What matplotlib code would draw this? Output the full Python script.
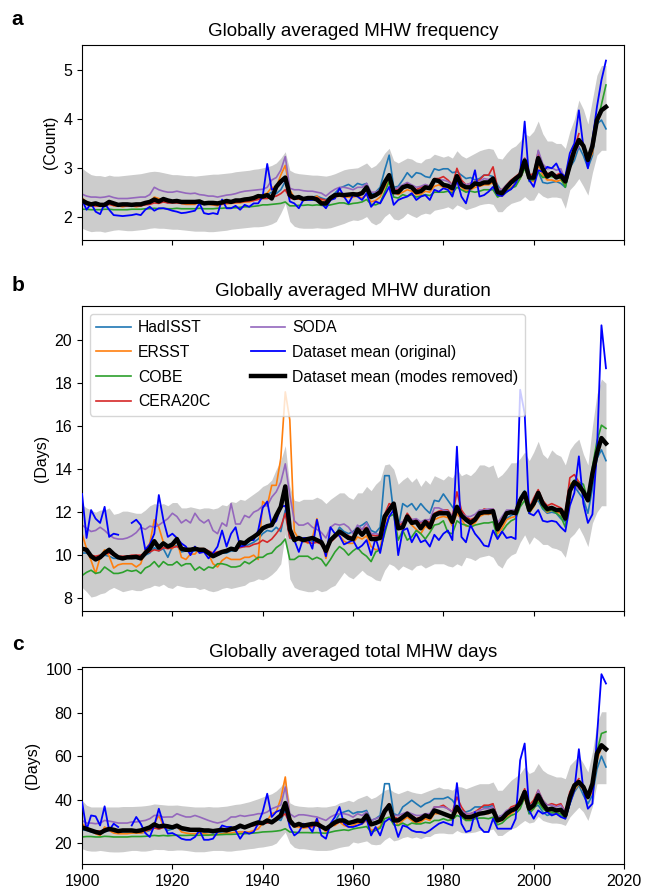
import numpy as np
import matplotlib
matplotlib.use("Agg")
import matplotlib.pyplot as plt

nan = np.nan
years = np.arange(1900, 2017)

names = ["HadISST", "ERSST", "COBE", "CERA20C", "SODA"]
colors = ["#1f77b4", "#ff7f0e", "#2ca02c", "#d62728", "#9467bd"]

# ---------------- (a) frequency ----------------
freq_had = [2.3, 2.25, 2.22, 2.25, 2.22, 2.2, 2.27, 2.25, 2.22, 2.22,
            2.22, 2.22, 2.22, 2.22, 2.25, 2.27, 2.32, 2.3, 2.33, 2.28,
            2.3, 2.3, 2.28, 2.28, 2.27, 2.28, 2.28, 2.25, 2.26, 2.25,
            2.25, 2.27, 2.3, 2.28, 2.3, 2.32, 2.33, 2.35, 2.38, 2.42,
            2.45, 2.45, 2.5, 2.47, 2.55, 2.72, 2.42, 2.38, 2.4, 2.36,
            2.4, 2.4, 2.42, 2.38, 2.35, 2.4, 2.48, 2.58, 2.62, 2.66,
            2.6, 2.68, 2.65, 2.68, 2.45, 2.5, 2.6, 2.95, 3.26, 2.6,
            2.62, 2.75, 2.9, 2.8, 2.9, 2.88, 2.82, 2.8, 2.98, 2.95,
            2.98, 2.98, 2.9, 2.92, 2.85, 2.78, 2.8, 2.75, 2.78, 2.85,
            2.85, 2.82, 2.65, 2.5, 2.62, 2.68, 2.7, 2.85, 3.16, 2.72,
            2.75, 2.92, 2.7, 2.68, 2.7, 2.72, 2.68, 2.6, 3.0, 3.15,
            3.43, 3.25, 3.0, 3.25, 3.9, 3.98, 3.8]
freq_ers = [2.38, 2.3, 2.24, 2.22, 2.22, 2.25, 2.27, 2.22, 2.22, 2.2,
            2.22, 2.22, 2.2, 2.22, 2.27, 2.3, 2.4, 2.37, 2.33, 2.3,
            2.3, 2.32, 2.27, 2.25, 2.25, 2.25, 2.3, 2.27, 2.25, 2.24,
            2.22, 2.25, 2.26, 2.27, 2.28, 2.28, 2.3, 2.3, 2.33, 2.36,
            2.45, 2.48, 2.6, 2.6, 2.85, 3.05, 2.55, 2.38, 2.36, 2.33,
            2.35, 2.36, 2.42, 2.33, 2.25, 2.35, 2.4, 2.42, 2.4, 2.4,
            2.4, 2.42, 2.38, 2.45, 2.3, 2.33, 2.4, 2.6, 2.72, 2.5,
            2.45, 2.5, 2.55, 2.52, 2.45, 2.45, 2.52, 2.5, 2.62, 2.65,
            2.6, 2.6, 2.5, 2.7, 2.6, 2.52, 2.55, 2.6, 2.62, 2.65,
            2.65, 2.7, 2.45, 2.42, 2.52, 2.6, 2.68, 2.78, 3.02, 2.75,
            2.72, 3.05, 2.85, 2.75, 2.75, 2.72, 2.75, 2.65, 3.0, 3.25,
            3.6, 3.4, 3.1, 3.3, 3.9, 4.15, 4.25]
freq_cobe = [2.15, 2.15, 2.14, 2.14, 2.14, 2.15, 2.15, 2.14, 2.14, 2.14,
             2.14, 2.15, 2.15, 2.15, 2.16, 2.16, 2.17, 2.16, 2.17, 2.16,
             2.16, 2.17, 2.16, 2.16, 2.16, 2.16, 2.17, 2.16, 2.16, 2.16,
             2.17, 2.17, 2.18, 2.18, 2.18, 2.19, 2.2, 2.2, 2.21, 2.22,
             2.24, 2.24, 2.25, 2.26, 2.27, 2.3, 2.22, 2.22, 2.23, 2.23,
             2.24, 2.23, 2.24, 2.23, 2.22, 2.24, 2.26, 2.28, 2.28, 2.25,
             2.27, 2.28, 2.3, 2.35, 2.25, 2.24, 2.28, 2.5, 2.72, 2.4,
             2.38, 2.45, 2.42, 2.45, 2.4, 2.42, 2.45, 2.43, 2.5, 2.5,
             2.5, 2.52, 2.48, 2.6, 2.55, 2.5, 2.52, 2.5, 2.52, 2.55,
             2.55, 2.55, 2.4, 2.45, 2.5, 2.58, 2.62, 2.78, 2.99, 2.75,
             2.75, 2.92, 2.8, 2.82, 2.82, 2.8, 2.78, 2.6, 3.0, 3.3,
             3.5, 3.45, 3.07, 3.47, 3.9, 4.3, 4.7]
freq_cera = [nan, 2.25, 2.22, 2.22, 2.22, 2.22, 2.25, 2.23, 2.22, 2.22,
             2.22, 2.22, 2.22, 2.22, 2.24, 2.25, 2.28, 2.27, 2.3, 2.28,
             2.28, 2.28, 2.27, 2.27, 2.27, 2.27, 2.28, 2.26, 2.26, 2.25,
             2.25, 2.26, 2.28, 2.28, 2.29, 2.3, 2.31, 2.32, 2.33, 2.35,
             2.37, 2.37, 2.4, 2.42, 2.47, 2.55, 2.38, 2.36, 2.37, 2.35,
             2.37, 2.37, 2.38, 2.36, 2.33, 2.37, 2.42, 2.45, 2.45, 2.45,
             2.45, 2.48, 2.5, 2.6, 2.42, 2.42, 2.5, 2.72, 2.85, 2.55,
             2.55, 2.62, 2.68, 2.62, 2.55, 2.6, 2.65, 2.62, 2.78, 2.78,
             2.82, 2.75, 2.65, 2.99, 2.75, 2.65, 2.68, 2.72, 2.75, 2.85,
             2.85, 3.02, 2.58, 2.55, 2.65, 2.75, 2.82, 2.9, 3.2, 2.85,
             2.88, 3.33, 3.0, 2.88, 2.9, 2.85, 2.9, 2.72, 3.2, 3.4,
             3.7, nan, nan, nan, nan, nan, nan]
freq_soda = [2.46, 2.42, 2.4, 2.4, 2.39, 2.4, 2.42, 2.39, 2.37, 2.37,
             2.37, 2.38, 2.39, 2.4, 2.4, 2.45, 2.6, 2.55, 2.52, 2.5,
             2.5, 2.52, 2.5, 2.48, 2.47, 2.48, 2.45, 2.44, 2.42, 2.42,
             2.4, 2.42, 2.44, 2.45, 2.47, 2.5, 2.52, 2.53, 2.54, 2.55,
             2.56, 2.6, 2.75, 2.8, 2.95, 3.23, 2.58, 2.55, 2.55, 2.53,
             2.52, 2.52, 2.5, 2.48, 2.42, 2.5, 2.56, 2.6, 2.6, 2.58,
             2.55, 2.6, 2.6, 2.68, 2.5, 2.5, 2.55, 2.7, 2.8, 2.55,
             2.6, 2.65, 2.7, 2.65, 2.6, 2.62, 2.66, 2.62, 2.75, 2.75,
             2.75, 2.72, 2.65, 2.8, 2.7, 2.65, 2.68, 2.72, 2.72, 2.78,
             2.76, 2.8, 2.58, 2.55, 2.65, 2.72, 2.75, 2.85, 3.19, 2.82,
             2.8, 3.36, 3.08, 2.98, 3.0, 2.95, 2.98, 2.75, 3.1, 3.3,
             3.43, nan, nan, nan, nan, nan, nan]
freq_orig = [2.34, 2.14, 2.27, 2.1, 2.05, 2.27, 2.14, 2.03, 2.02, 2.01,
             2.02, 2.03, 2.05, 2.03, 2.14, 2.2, 2.12, 2.17, 2.17, 2.15,
             2.12, 2.1, 2.07, 2.08, 2.1, 2.12, 2.27, 2.07, 2.05, 2.07,
             2.05, 2.35, 2.17, 2.17, 2.22, 2.14, 2.24, 2.2, 2.27, 2.27,
             2.41, 3.08, 2.55, 2.6, 2.68, 2.78, 2.31, 2.27, 2.17, 2.34,
             2.34, 2.34, 2.37, 2.27, 2.17, 2.34, 2.37, 2.58, 2.41, 2.27,
             2.44, 2.41, 2.34, 2.48, 2.2, 2.31, 2.27, 2.44, 2.61, 2.24,
             2.34, 2.38, 2.41, 2.48, 2.34, 2.41, 2.44, 2.34, 2.55, 2.51,
             2.58, 2.55, 2.41, 2.75, 2.41, 2.27, 2.61, 2.95, 2.41, 2.44,
             2.51, 2.61, 2.44, 2.42, 2.51, 2.56, 2.68, 2.89, 3.95, 2.75,
             2.61, 2.95, 2.92, 3.02, 2.99, 3.09, 2.89, 2.82, 3.3, 3.5,
             4.18, 3.43, 2.99, 3.57, 4.25, 4.8, 5.2]
freq_mean = [2.33, 2.28, 2.25, 2.27, 2.24, 2.24, 2.3, 2.27, 2.24, 2.25,
             2.25, 2.24, 2.25, 2.25, 2.28, 2.3, 2.35, 2.31, 2.36, 2.33,
             2.31, 2.32, 2.3, 2.3, 2.3, 2.3, 2.31, 2.27, 2.28, 2.28,
             2.27, 2.29, 2.32, 2.3, 2.33, 2.33, 2.35, 2.36, 2.38, 2.42,
             2.41, 2.44, 2.37, 2.61, 2.72, 2.8, 2.44, 2.38, 2.4, 2.36,
             2.38, 2.38, 2.35, 2.27, 2.27, 2.38, 2.44, 2.45, 2.44, 2.45,
             2.46, 2.45, 2.48, 2.6, 2.4, 2.44, 2.5, 2.7, 2.85, 2.5,
             2.5, 2.6, 2.63, 2.6, 2.5, 2.52, 2.6, 2.58, 2.75, 2.73,
             2.65, 2.63, 2.58, 2.83, 2.65, 2.6, 2.6, 2.68, 2.66, 2.7,
             2.7, 2.78, 2.5, 2.48, 2.6, 2.7, 2.78, 2.85, 3.15, 2.8,
             2.8, 3.2, 2.98, 2.82, 2.89, 2.8, 2.84, 2.72, 3.05, 3.36,
             3.57, 3.45, 3.16, 3.45, 3.98, 4.18, 4.25]
freq_lo = [1.76, 1.72, 1.69, 1.7, 1.7, 1.68, 1.7, 1.72, 1.73, 1.72,
           1.71, 1.71, 1.72, 1.73, 1.74, 1.76, 1.77, 1.76, 1.76, 1.75,
           1.74, 1.74, 1.73, 1.72, 1.71, 1.7, 1.7, 1.7, 1.69, 1.69,
           1.7, 1.71, 1.72, 1.74, 1.75, 1.76, 1.77, 1.78, 1.79, 1.79,
           1.8, 1.82, 1.85, 1.9, 2.07, 2.27, 1.9, 1.8, 1.77, 1.76,
           1.76, 1.76, 1.77, 1.76, 1.76, 1.77, 1.8, 1.83, 1.86, 1.9,
           1.93, 1.92, 1.95, 2.0, 1.88, 1.83, 1.88, 2.0, 2.07, 1.95,
           1.93, 1.98, 2.07, 2.02, 1.98, 2.04, 2.07, 2.05, 2.13, 2.15,
           2.17, 2.2, 2.15, 2.24, 2.2, 2.14, 2.17, 2.2, 2.24, 2.26,
           2.27, 2.25, 2.1, 2.1, 2.2, 2.27, 2.3, 2.33, 2.41, 2.33,
           2.34, 2.5, 2.42, 2.38, 2.4, 2.4, 2.38, 2.17, 2.55, 2.65,
           2.78, 2.62, 2.44, 2.9, 3.26, 3.36, 3.36]
freq_hi = [2.99, 2.92, 2.86, 2.84, 2.84, 2.82, 2.85, 2.83, 2.83, 2.84,
           2.85, 2.86, 2.87, 2.88, 2.9, 2.92, 2.93, 2.92, 2.9, 2.88,
           2.86, 2.86, 2.85, 2.84, 2.84, 2.83, 2.84, 2.85, 2.86, 2.87,
           2.87, 2.88, 2.89, 2.9, 2.92, 2.93, 2.94, 2.95, 2.97, 2.98,
           3.0, 3.02, 3.05, 3.1, 3.2, 3.33, 2.95, 2.9, 2.88, 2.87,
           2.86, 2.85, 2.85, 2.84, 2.83, 2.85, 2.88, 2.92, 2.96, 2.98,
           2.99, 3.0, 3.05, 3.1, 3.0, 3.05, 3.15, 3.3, 3.4, 3.15,
           3.1, 3.15, 3.2, 3.18, 3.12, 3.1, 3.18, 3.2, 3.28, 3.25,
           3.22, 3.25, 3.2, 3.35, 3.25, 3.2, 3.25, 3.3, 3.35, 3.38,
           3.4, 3.38, 3.2, 3.18, 3.3, 3.4, 3.45, 3.55, 3.7, 3.65,
           3.75, 3.96, 3.7, 3.55, 3.55, 3.5, 3.5, 3.4, 3.75, 4.0,
           4.39, 4.2, 3.9, 4.4, 4.9, 5.1, 5.1]

# ---------------- (b) duration ----------------
dur_had = [10.1, 10.1, 9.95, 9.8, 9.9, 10.0, 9.95, 9.85, 9.85, 9.9,
           9.9, 9.85, 9.85, 9.8, 10.0, 10.1, 10.35, 10.2, 10.3, 9.9,
           10.4, 10.45, 10.15, 10.2, 10.15, 10.2, 10.2, 10.15, 10.05, 9.95,
           10.0, 10.1, 10.1, 10.2, 10.2, 10.45, 10.4, 10.5, 10.6, 10.75,
           11.0, 11.15, 11.1, 11.3, 11.1, 12.1, 10.8, 10.7, 10.7, 10.65,
           10.7, 10.65, 10.75, 10.5, 10.2, 10.6, 10.9, 11.3, 11.1, 11.0,
           11.1, 11.3, 11.4, 11.55, 11.15, 11.05, 11.3, 13.7, 13.7, 11.95,
           11.25, 12.4, 12.25, 12.4, 12.1, 12.4, 12.15, 11.95, 12.55, 12.5,
           12.85, 12.55, 12.25, 11.95, 11.7, 11.8, 11.55, 11.65, 11.95, 11.95,
           11.9, 11.95, 11.2, 11.55, 11.7, 11.85, 11.95, 12.7, 13.0, 11.95,
           12.4, 12.55, 12.15, 11.95, 12.0, 11.95, 11.7, 11.55, 13.1, 13.2,
           12.9, 12.6, 11.95, 13.1, 14.5, 14.9, 14.4]
dur_ers = [11.0, 10.3, 9.75, 9.15, 9.9, 10.25, 9.95, 9.4, 9.55, 9.6,
           9.6, 9.6, 9.45, 9.6, 10.25, 10.55, 11.65, 11.3, 10.6, 10.4,
           10.3, 10.7, 9.9, 9.8, 10.05, 10.05, 10.3, 10.3, 10.05, 9.6,
           9.45, 9.75, 9.9, 9.8, 9.8, 9.8, 9.9, 9.9, 10.0, 9.8,
           12.5, 12.3, 13.25, 13.25, 14.5, 17.6, 16.3, 11.1, 10.75, 10.7,
           10.55, 10.8, 11.7, 10.7, 9.85, 10.7, 11.0, 10.9, 10.65, 10.55,
           10.55, 10.85, 10.75, 10.9, 10.4, 10.25, 10.3, 11.45, 12.1, 12.25,
           11.2, 11.2, 11.75, 11.4, 11.2, 11.0, 11.35, 11.2, 11.65, 11.75,
           11.8, 11.75, 11.35, 11.95, 11.65, 11.35, 11.35, 11.5, 11.8, 11.9,
           11.9, 11.95, 11.0, 11.25, 11.65, 11.75, 11.8, 12.4, 12.8, 11.95,
           12.25, 12.7, 12.25, 12.0, 12.1, 12.0, 11.95, 11.65, 13.3, 13.45,
           13.2, 13.05, 12.6, 13.5, 14.6, 15.45, 15.2]
dur_cobe = [9.05, 9.2, 9.3, 9.15, 9.2, 9.45, 9.3, 9.15, 9.15, 9.2,
            9.3, 9.25, 9.3, 9.15, 9.4, 9.5, 9.7, 9.45, 9.7, 9.55,
            9.55, 9.7, 9.5, 9.6, 9.6, 9.3, 9.45, 9.3, 9.45, 9.4,
            9.6, 9.6, 9.55, 9.45, 9.45, 9.5, 9.7, 9.6, 9.75, 9.9,
            9.9, 10.05, 10.1, 10.35, 10.5, 10.75, 9.8, 9.8, 9.95, 9.95,
            9.95, 9.8, 9.9, 9.8, 9.5, 9.8, 10.15, 10.4, 10.25, 10.0,
            10.2, 10.35, 10.1, 9.95, 9.7, 10.15, 10.25, 11.0, 11.8, 11.9,
            10.7, 11.15, 10.7, 10.85, 11.15, 11.0, 10.75, 11.05, 11.4, 11.45,
            11.6, 11.05, 11.0, 11.6, 11.45, 11.4, 11.3, 11.4, 11.45, 11.5,
            11.5, 11.55, 10.8, 11.1, 11.4, 11.6, 11.7, 12.25, 12.55, 11.95,
            12.35, 12.75, 12.2, 12.05, 12.1, 11.95, 11.8, 11.3, 13.2, 13.5,
            13.4, 13.3, 12.55, 14.1, 15.3, 16.05, 15.9]
dur_cera = [nan, 10.15, 10.0, 9.95, 10.0, 10.05, 10.1, 10.0, 9.95, 9.95,
            9.95, 10.0, 10.0, 10.0, 10.1, 10.15, 10.25, 10.2, 10.35, 10.3,
            10.35, 10.4, 10.3, 10.3, 10.3, 10.25, 10.3, 10.3, 10.2, 10.1,
            10.15, 10.2, 10.25, 10.25, 10.3, 10.35, 10.4, 10.4, 10.5, 10.55,
            10.7, 10.6, 10.75, 11.0, 11.3, 11.95, 10.8, 10.8, 10.7, 10.65,
            10.6, 10.55, 10.6, 10.5, 10.35, 10.6, 10.8, 11.0, 11.0, 10.9,
            10.8, 11.2, 11.2, 11.3, 10.95, 10.9, 10.95, 11.9, 12.4, 12.3,
            11.35, 11.5, 11.95, 11.65, 11.65, 11.5, 11.65, 11.5, 11.95, 12.05,
            12.1, 12.1, 11.8, 12.95, 12.1, 11.8, 11.65, 11.75, 11.95, 12.15,
            12.1, 12.15, 11.35, 11.65, 11.95, 12.05, 12.0, 12.65, 12.95, 12.2,
            12.65, 13.05, 12.55, 12.3, 12.4, 12.3, 12.2, 11.95, 13.6, 13.75,
            13.4, nan, nan, nan, nan, nan, nan]
dur_soda = [11.4, 11.25, 11.1, 11.15, 11.3, 11.15, 10.95, 10.8, 10.75, 10.75,
            10.8, 10.9, 11.05, 11.3, 11.2, 11.35, 11.3, 11.4, 11.55, 11.7,
            11.95, 11.8, 11.5, 11.65, 11.5, 11.95, 11.65, 11.5, 11.65, 11.15,
            11.0, 11.5, 11.35, 12.4, 11.45, 11.45, 11.85, 11.75, 12.0, 12.1,
            12.3, 12.3, 12.7, 12.95, 13.4, 14.25, 12.8, 11.6, 11.4, 11.4,
            11.5, 11.3, 11.2, 11.05, 10.8, 11.3, 11.45, 11.4, 11.45, 11.3,
            11.0, 11.4, 11.2, 11.5, 11.0, 11.0, 10.95, 11.8, 12.25, 12.2,
            11.5, 11.55, 11.8, 11.65, 11.7, 11.55, 11.65, 11.65, 12.2, 12.2,
            12.1, 12.05, 11.8, 12.25, 11.95, 11.8, 11.8, 11.9, 12.1, 12.1,
            12.15, 12.15, 11.5, 11.8, 12.1, 12.1, 12.1, 12.5, 12.7, 12.1,
            12.4, 12.9, 12.35, 12.2, 12.2, 12.1, 12.05, 11.8, 13.2, 13.3,
            13.05, nan, nan, nan, nan, nan, nan]
dur_orig = [12.85, 10.8, 12.1, 11.7, 11.5, 12.25, 10.85, 11.0, 10.95, nan,
            nan, 11.5, 11.65, 11.4, 10.25, 10.5, 11.0, 12.8, 11.65, 10.85,
            11.0, 10.8, 10.55, 10.4, 10.0, 10.4, 10.1, 10.15, 9.85, 10.1,
            10.4, 11.15, 10.4, 11.0, 11.3, 10.4, 10.45, 10.7, 10.7, 11.15,
            12.2, 12.5, 11.4, 11.6, 12.25, 12.3, 11.3, 10.7, 10.15, 10.8,
            10.8, 10.3, 11.65, 10.7, 9.95, 11.3, 11.0, 10.9, 10.5, 10.6,
            10.7, 10.3, 10.45, 10.7, 10.0, 10.8, 10.1, 11.15, 11.8, 12.1,
            10.0, 11.15, 11.25, 10.6, 11.0, 10.6, 10.7, 10.4, 10.95, 10.7,
            11.0, 11.15, 10.7, 15.05, 10.85, 10.6, 11.4, 11.0, 10.75, 10.45,
            10.4, 11.15, 10.75, 11.1, 10.8, 10.85, 10.75, 17.7, 16.6, 11.95,
            11.85, 12.1, 11.6, 11.55, 11.6, 11.55, 11.3, 11.1, 12.3, 12.9,
            14.6, 12.4, 11.5, 11.9, 14.8, 20.7, 18.7]
dur_mean = [10.3, 10.25, 9.95, 9.8, 9.9, 10.1, 10.25, 10.05, 9.9, 9.85,
            9.9, 9.9, 9.92, 9.85, 10.1, 10.3, 10.65, 10.35, 10.55, 10.4,
            10.5, 10.75, 10.3, 10.25, 10.25, 10.3, 10.25, 10.25, 10.1, 9.95,
            10.05, 10.15, 10.2, 10.3, 10.25, 10.6, 10.55, 10.72, 10.85, 11.0,
            11.25, 11.35, 11.4, 11.85, 12.25, 13.2, 11.2, 10.7, 10.8, 10.7,
            10.75, 10.8, 10.7, 10.6, 10.2, 10.7, 10.9, 11.1, 10.95, 10.8,
            10.75, 11.2, 10.95, 11.2, 10.75, 10.75, 10.8, 11.8, 12.1, 12.4,
            11.25, 11.3, 11.8, 11.5, 11.55, 11.25, 11.55, 11.3, 11.85, 11.95,
            11.95, 11.95, 11.55, 12.25, 11.85, 11.65, 11.5, 11.65, 11.95, 12.0,
            12.0, 12.05, 11.2, 11.55, 11.95, 12.0, 11.95, 12.55, 12.9, 12.1,
            12.4, 12.9, 12.4, 12.15, 12.2, 12.1, 12.1, 11.7, 13.0, 13.4,
            13.25, 12.95, 12.55, 13.8, 14.75, 15.45, 15.2]
dur_lo = [8.5, 8.3, 8.05, 8.1, 8.2, 8.25, 8.4, 8.5, 8.4, 8.3,
          8.35, 8.4, 8.35, 8.35, 8.45, 8.5, 8.6, 8.55, 8.65, 8.5,
          8.45, 8.6, 8.55, 8.5, 8.5, 8.5, 8.4, 8.45, 8.35, 8.3,
          8.35, 8.45, 8.5, 8.45, 8.5, 8.55, 8.6, 8.75, 8.8, 8.9,
          8.85, 8.95, 9.1, 9.3, 9.6, 11.0, 8.9, 8.5, 8.4, 8.35,
          8.3, 8.3, 8.4, 8.3, 8.35, 8.5, 8.6, 8.9, 9.2, 9.0,
          8.9, 9.1, 9.3, 9.1, 9.0, 8.85, 8.8, 9.3, 9.6, 9.5,
          9.3, 9.5, 9.4, 9.3, 9.5, 9.55, 9.4, 9.5, 9.6, 9.6,
          9.6, 9.5, 9.45, 9.6, 9.5, 9.9, 9.85, 9.75, 9.9, 9.95,
          10.0, 9.9, 9.55, 9.4, 9.8, 10.0, 10.1, 10.6, 10.95, 10.5,
          10.85, 10.7, 10.5, 10.5, 10.35, 10.3, 10.2, 9.9, 10.8, 11.0,
          11.3, 10.9, 10.4, 11.5, 12.0, 12.3, 12.3]
dur_hi = [12.35, 12.2, 12.1, 12.0, 12.1, 12.1, 12.2, 11.9, 11.95, 12.05,
          12.05, 12.0, 11.95, 11.95, 12.1, 12.3, 12.4, 12.35, 12.4, 12.3,
          12.45, 12.45, 12.2, 12.2, 12.25, 12.2, 12.15, 12.2, 12.2, 12.15,
          12.2, 12.35, 12.3, 12.5, 12.45, 12.6, 12.55, 12.7, 12.85, 13.0,
          13.2, 13.3, 13.5, 14.0, 14.4, 15.1, 13.2, 12.55, 12.5, 12.6,
          12.6, 12.6, 12.7, 12.6, 12.4, 12.6, 12.75, 12.9, 12.9, 12.7,
          12.6, 12.9, 12.9, 13.2, 13.0, 13.3, 13.5, 14.2, 14.25, 14.0,
          13.3, 13.5, 13.65, 13.4, 13.6, 13.2, 13.5, 13.3, 13.7, 13.6,
          13.5, 13.7, 13.6, 14.0, 13.7, 13.8, 13.7, 13.9, 14.2, 14.2,
          14.1, 14.2, 13.6, 13.75, 14.0, 14.3, 14.3, 14.5, 14.8, 14.4,
          14.8, 15.3, 14.7, 14.5, 14.9, 14.7, 14.6, 14.2, 14.9, 15.2,
          15.4, 14.7, 14.2, 16.0, 17.5, 18.2, 18.0]

# ---------------- (c) total days ----------------
days_had = [26.1, 25.8, 25.1, 24.6, 24.6, 25.1, 25.8, 25.1, 24.6, 24.6,
            24.6, 24.6, 24.6, 24.6, 25.1, 25.8, 27.2, 26.5, 27.2, 25.8,
            26.5, 27.2, 25.8, 25.8, 25.5, 25.5, 25.5, 25.1, 25.1, 24.6,
            25.1, 25.1, 25.5, 25.8, 26.1, 27.2, 26.9, 27.6, 28.4, 29.2,
            29.7, 30.4, 30.4, 31.2, 30.4, 35.0, 28.8, 28.4, 28.4, 27.6,
            28.4, 28.4, 28.8, 27.6, 26.5, 28.0, 29.7, 33.5, 34.3, 35.0,
            33.5, 34.3, 34.3, 35.0, 30.4, 31.2, 32.7, 47.3, 47.3, 33.5,
            32.7, 36.6, 38.1, 39.7, 38.1, 36.6, 38.1, 38.9, 40.4, 40.4,
            40.4, 41.2, 39.7, 36.6, 35.0, 34.3, 35.0, 36.6, 36.6, 36.6,
            36.6, 37.4, 31.9, 32.7, 33.5, 34.3, 35.0, 38.1, 41.2, 33.5,
            36.6, 37.4, 34.3, 32.7, 33.5, 33.5, 32.7, 32.0, 38.1, 43.5,
            46.6, 42.0, 38.1, 42.0, 54.0, 60.0, 55.0]
days_ers = [28.9, 27.4, 25.8, 24.3, 23.5, 27.4, 25.8, 24.6, 24.3, 24.3,
            24.3, 24.6, 24.6, 24.6, 25.1, 26.5, 28.9, 32.7, 28.1, 27.4,
            27.4, 28.1, 25.1, 24.6, 24.3, 24.3, 24.6, 24.3, 24.0, 23.8,
            24.0, 24.3, 24.6, 24.6, 25.1, 25.1, 25.1, 25.1, 25.8, 26.5,
            29.2, 30.4, 33.5, 34.3, 40.4, 50.4, 32.0, 27.4, 27.4, 26.9,
            27.2, 27.6, 31.2, 27.4, 25.1, 28.1, 28.1, 29.7, 28.1, 27.4,
            28.1, 29.2, 28.8, 30.4, 25.8, 26.5, 27.6, 33.5, 38.1, 31.2,
            28.1, 30.4, 31.9, 30.4, 28.9, 29.7, 31.2, 30.4, 33.5, 33.5,
            33.5, 32.7, 30.4, 35.0, 32.7, 30.4, 31.2, 31.9, 33.5, 33.5,
            33.5, 35.0, 29.7, 30.4, 32.0, 33.5, 35.0, 37.4, 40.4, 34.3,
            35.8, 40.0, 36.6, 34.3, 34.3, 33.5, 33.5, 32.0, 38.9, 44.3,
            47.3, 44.3, 40.4, 43.5, 58.0, 64.2, 63.5]
days_cobe = [22.8, 23.0, 23.0, 22.8, 22.8, 23.1, 23.0, 22.8, 22.8, 22.8,
             22.8, 23.0, 23.0, 23.0, 23.1, 23.3, 23.5, 23.3, 23.5, 23.3,
             23.5, 23.6, 23.5, 23.5, 23.6, 23.5, 23.6, 23.6, 23.6, 23.8,
             23.8, 23.9, 24.0, 24.0, 24.1, 24.3, 24.3, 24.4, 24.6, 24.8,
             25.1, 25.2, 25.3, 25.5, 25.8, 26.6, 25.1, 25.0, 24.8, 24.8,
             24.8, 24.7, 24.8, 24.6, 24.5, 25.0, 25.5, 25.8, 26.1, 25.8,
             26.5, 26.9, 27.2, 27.6, 25.1, 25.8, 26.9, 31.2, 31.9, 28.4,
             28.1, 29.2, 28.1, 29.2, 28.8, 28.8, 29.5, 29.2, 30.4, 30.4,
             31.2, 30.4, 30.8, 32.7, 31.9, 30.4, 30.4, 31.2, 31.5, 31.5,
             31.2, 31.9, 28.4, 29.2, 31.2, 32.7, 33.5, 35.8, 41.2, 33.5,
             35.8, 38.9, 35.8, 34.3, 34.3, 33.8, 33.5, 31.2, 38.1, 45.0,
             48.1, 46.6, 40.4, 47.3, 62.0, 70.4, 71.2]
days_cera = [nan, 26.1, 25.8, 25.5, 25.5, 25.8, 26.1, 25.8, 25.5, 25.5,
             25.5, 25.5, 25.5, 25.5, 25.8, 26.1, 26.9, 26.5, 27.2, 26.9,
             27.2, 27.2, 26.9, 26.9, 26.5, 26.5, 26.5, 26.1, 25.8, 25.8,
             25.8, 26.1, 26.5, 26.5, 26.9, 27.2, 27.6, 27.6, 28.0, 28.4,
             29.2, 29.2, 29.7, 30.4, 31.9, 33.5, 28.8, 28.4, 28.4, 27.6,
             27.6, 27.6, 28.0, 27.2, 26.5, 27.6, 28.8, 29.7, 29.7, 29.2,
             29.2, 30.4, 30.8, 32.7, 28.8, 29.2, 30.4, 35.0, 38.1, 32.0,
             31.2, 32.7, 34.3, 32.7, 31.2, 32.0, 33.5, 32.7, 36.6, 36.6,
             37.4, 35.8, 34.3, 41.2, 36.6, 33.5, 33.5, 34.3, 35.8, 37.4,
             37.4, 38.1, 31.2, 32.0, 34.3, 36.6, 37.4, 39.7, 45.0, 37.4,
             39.7, 44.3, 39.7, 37.4, 38.1, 37.4, 38.1, 34.3, 43.5, 47.3,
             49.6, nan, nan, nan, nan, nan, nan]
days_soda = [30.4, 29.2, 29.2, 28.9, 29.2, 30.4, 30.1, 29.7, 29.2, 29.2,
             29.2, 29.7, 29.7, 30.1, 30.4, 31.2, 32.7, 32.7, 31.9, 32.0,
             32.0, 33.5, 32.7, 32.0, 32.0, 32.7, 32.0, 31.2, 30.4, 29.7,
             29.2, 29.7, 30.4, 32.0, 32.0, 32.7, 32.3, 32.7, 33.0, 33.5,
             33.5, 34.3, 35.8, 36.6, 37.4, 45.8, 33.5, 32.0, 33.0, 33.0,
             32.7, 32.3, 32.0, 31.2, 30.4, 32.0, 33.0, 33.5, 33.5, 33.0,
             31.9, 33.5, 32.7, 34.3, 30.4, 31.2, 32.0, 35.8, 37.4, 32.7,
             32.7, 33.5, 34.3, 33.5, 32.7, 32.7, 33.5, 33.5, 36.6, 36.6,
             36.6, 35.8, 34.3, 36.6, 35.0, 33.5, 33.5, 34.3, 35.0, 35.8,
             35.8, 36.6, 31.9, 32.7, 35.0, 35.8, 36.6, 38.9, 43.5, 37.4,
             38.1, 44.3, 39.7, 37.4, 37.4, 36.6, 37.4, 34.3, 42.0, 46.6,
             48.1, nan, nan, nan, nan, nan, nan]
days_orig = [38.9, 26.1, 32.7, 32.3, 28.1, 36.9, 25.8, 28.9, 27.4, nan,
             nan, 28.1, 32.0, 28.9, 24.6, 22.8, 28.1, 35.8, 28.9, 24.3,
             24.6, 23.5, 22.0, 21.5, 21.5, 22.8, 25.8, 21.5, 21.5, 22.0,
             25.1, 28.1, 27.4, 27.4, 25.8, 22.0, 25.1, 24.3, 25.1, 29.0,
             34.4, 42.7, 32.0, 34.4, 35.2, 36.6, 27.4, 23.5, 25.1, 28.9,
             28.1, 25.1, 31.2, 23.5, 22.0, 28.9, 32.0, 36.6, 28.9, 27.4,
             27.4, 28.1, 28.9, 31.2, 23.5, 27.4, 23.5, 29.7, 31.2, 29.7,
             22.8, 28.1, 27.4, 25.8, 25.1, 25.1, 24.6, 25.8, 27.4, 28.9,
             29.7, 28.9, 28.1, 47.6, 28.9, 25.1, 25.8, 34.3, 27.4, 25.1,
             25.1, 31.2, 26.6, 26.6, 26.6, 26.6, 31.2, 58.1, 65.8, 35.0,
             31.2, 35.0, 33.5, 34.3, 32.7, 33.5, 32.0, 31.2, 38.1, 44.3,
             63.2, 44.3, 35.8, 38.1, 68.8, 97.7, 93.4]
days_mean = [27.2, 26.5, 25.8, 25.1, 24.6, 25.8, 26.5, 26.1, 25.5, 25.8,
             25.8, 25.8, 25.5, 25.8, 26.5, 27.2, 28.6, 27.6, 28.0, 27.7,
             27.2, 28.0, 26.9, 26.5, 26.1, 26.1, 26.1, 25.8, 25.8, 25.5,
             25.8, 26.1, 25.8, 26.5, 26.9, 28.0, 27.2, 28.0, 28.8, 29.5,
             29.1, 30.4, 29.5, 31.0, 32.7, 38.4, 30.4, 28.0, 28.8, 28.0,
             28.4, 28.8, 28.8, 27.6, 26.5, 28.0, 29.5, 30.4, 30.4, 29.2,
             29.7, 30.4, 30.1, 32.7, 28.6, 29.2, 30.1, 34.6, 37.4, 30.4,
             30.4, 31.9, 33.5, 31.9, 30.4, 31.2, 32.7, 31.9, 35.0, 34.3,
             33.5, 32.7, 31.9, 36.6, 33.5, 31.9, 31.9, 32.7, 33.5, 33.8,
             34.3, 35.0, 30.4, 31.2, 33.5, 35.0, 35.8, 38.5, 43.5, 35.8,
             37.4, 42.0, 38.1, 35.3, 35.8, 35.0, 35.3, 32.7, 41.0, 46.5,
             48.1, 45.8, 41.2, 47.3, 61.2, 65.0, 63.2]
days_lo = [17.4, 16.6, 16.3, 16.3, 16.6, 16.3, 16.0, 15.9, 15.9, 16.0,
           16.3, 16.6, 16.6, 16.3, 16.3, 16.6, 17.1, 17.0, 17.0, 16.6,
           16.6, 16.8, 16.8, 16.6, 16.3, 16.0, 16.0, 16.0, 16.3, 16.6,
           16.6, 16.6, 16.3, 16.3, 16.6, 16.8, 17.1, 17.4, 17.6, 18.0,
           18.2, 18.6, 19.0, 20.0, 22.6, 25.0, 20.0, 18.0, 17.4, 17.4,
           17.1, 16.8, 16.6, 16.6, 16.6, 16.8, 17.4, 18.0, 18.4, 18.7,
           20.5, 20.0, 20.5, 21.0, 19.5, 19.2, 19.5, 21.5, 22.8, 21.0,
           21.5, 22.5, 23.0, 22.3, 22.8, 22.0, 23.0, 23.0, 24.3, 24.6,
           24.6, 24.3, 24.3, 25.8, 24.8, 24.6, 24.8, 25.1, 25.8, 25.8,
           25.8, 26.5, 23.5, 23.5, 25.1, 26.5, 27.2, 28.9, 30.4, 29.2,
           29.7, 32.3, 30.4, 29.7, 29.2, 29.2, 28.9, 28.1, 32.0, 34.3,
           36.5, 34.3, 30.4, 37.0, 47.3, 47.3, 47.3]
days_hi = [39.7, 37.4, 36.6, 36.6, 36.6, 36.6, 36.6, 36.6, 36.6, 36.8,
           36.8, 36.8, 36.9, 37.0, 37.2, 37.5, 38.0, 37.8, 37.6, 37.4,
           37.4, 37.5, 37.2, 37.0, 36.8, 36.6, 36.6, 36.6, 36.8, 36.6,
           36.6, 36.8, 37.0, 37.4, 37.8, 38.0, 38.5, 39.0, 39.7, 40.4,
           41.2, 42.0, 42.7, 44.0, 46.0, 49.0, 38.5, 37.4, 37.0, 36.8,
           36.6, 36.6, 36.8, 36.6, 36.6, 37.0, 37.4, 38.5, 39.0, 39.7,
           39.0, 40.4, 41.2, 42.0, 40.4, 41.2, 42.7, 44.3, 45.0, 43.5,
           42.7, 43.5, 44.3, 43.5, 43.0, 42.7, 43.5, 44.3, 45.0, 45.8,
           45.0, 45.0, 44.3, 46.0, 45.8, 45.0, 45.8, 46.6, 47.3, 47.3,
           47.3, 48.1, 44.3, 44.3, 46.6, 48.9, 50.4, 52.0, 55.0, 52.0,
           53.0, 56.6, 53.5, 52.0, 51.2, 50.4, 50.4, 49.6, 55.8, 58.0,
           60.0, 56.6, 52.7, 62.0, 75.0, 80.4, 80.4]

plt.rcParams["font.family"] = ["Liberation Sans", "DejaVu Sans"]
plt.rcParams["font.size"] = 11.5

fig = plt.figure(figsize=(6.46, 8.92), dpi=100)
ax_a = fig.add_axes([0.127, 0.731, 0.839, 0.218])
ax_b = fig.add_axes([0.127, 0.315, 0.839, 0.342])
ax_c = fig.add_axes([0.127, 0.031, 0.839, 0.221])


def draw_panel(ax, sets, orig, mean, lo, hi, title, ylabel, ylim, yticks):
    ax.fill_between(years, lo, hi, color="#cccccc", lw=0, zorder=1)
    for vals, name, col in zip(sets, names, colors):
        ax.plot(years, vals, color=col, lw=1.2, label=name, zorder=2)
    ax.plot(years, orig, color="blue", lw=1.3, label="Dataset mean (original)", zorder=3)
    ax.plot(years, mean, color="black", lw=3.2, label="Dataset mean (modes removed)", zorder=4)
    ax.set_xlim(1900, 2020)
    ax.set_xticks(range(1900, 2021, 20))
    ax.set_ylim(*ylim)
    ax.set_yticks(yticks)
    ax.set_ylabel(ylabel)
    ax.set_title(title, fontsize=13.5, pad=7)
    ax.tick_params(labelsize=11.5)


draw_panel(ax_a, [freq_had, freq_ers, freq_cobe, freq_cera, freq_soda],
           freq_orig, freq_mean, freq_lo, freq_hi,
           "Globally averaged MHW frequency", "(Count)", (1.52, 5.51), [2, 3, 4, 5])
draw_panel(ax_b, [dur_had, dur_ers, dur_cobe, dur_cera, dur_soda],
           dur_orig, dur_mean, dur_lo, dur_hi,
           "Globally averaged MHW duration", "(Days)", (7.4, 21.6), [8, 10, 12, 14, 16, 18, 20])
draw_panel(ax_c, [days_had, days_ers, days_cobe, days_cera, days_soda],
           days_orig, days_mean, days_lo, days_hi,
           "Globally averaged total MHW days", "(Days)", (10.2, 100.9), [20, 40, 60, 80, 100])

ax_a.tick_params(labelbottom=False)
ax_b.tick_params(labelbottom=False)

ax_b.legend(loc="upper left", ncol=2, fontsize=11.3, handlelength=2.2,
            handletextpad=0.45, labelspacing=0.62, columnspacing=2.6)

for lab, ypos in [("a", 0.978), ("b", 0.680), ("c", 0.278)]:
    fig.text(0.018, ypos, lab, fontsize=15, fontweight="bold", va="center")

fig.savefig("out.png", dpi=100)
